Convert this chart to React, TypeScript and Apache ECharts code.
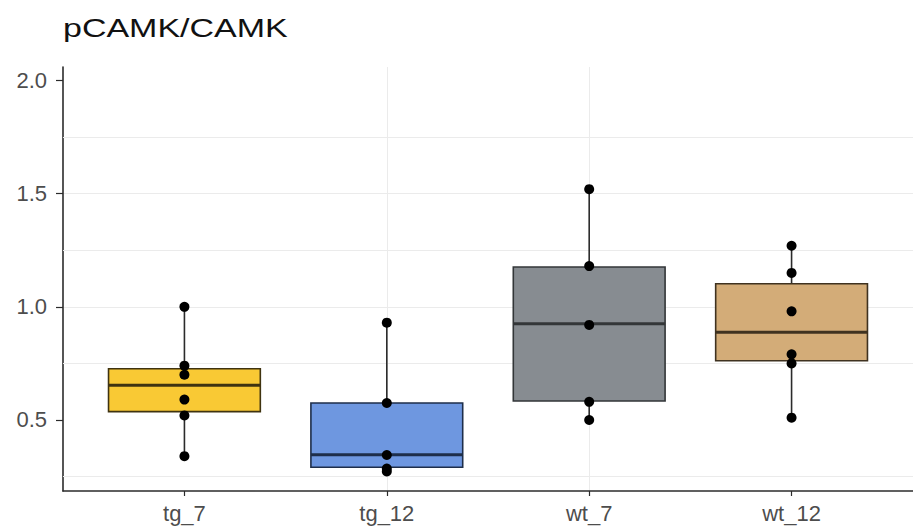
import React, { useEffect, useRef } from "react";
import * as echarts from "echarts";

const TITLE = "pCAMK/CAMK";
const CATEGORIES = ["tg_7", "tg_12", "wt_7", "wt_12"];
const CAT_POS = [1, 2, 3, 4];

// raw points per group
const TG7_POINTS = [1.0, 0.74, 0.7, 0.59, 0.52, 0.34];
const TG12_POINTS = [0.93, 0.575, 0.345, 0.285, 0.272];
const WT7_POINTS = [1.52, 1.18, 0.92, 0.58, 0.5];
const WT12_POINTS = [1.27, 1.15, 0.98, 0.79, 0.75, 0.51];

// box stats: [lower whisker, q1, median, q3, upper whisker]
const TG7_BOX = [0.34, 0.537, 0.653, 0.726, 1.0];
const TG12_BOX = [0.272, 0.291, 0.346, 0.575, 0.93];
const WT7_BOX = [0.5, 0.584, 0.925, 1.176, 1.518];
const WT12_BOX = [0.508, 0.762, 0.888, 1.102, 1.268];

const Y_MIN = 0.186;
const Y_MAX = 2.06;
const Y_TICKS = [0.5, 1.0, 1.5, 2.0];
const Y_MINOR = [0.25, 0.75, 1.25, 1.75];
const X_MIN = 0.4;
const X_MAX = 4.6;

const FILLS = ["#F9C934", "#6E97E0", "#878C91", "#D3AC78"];
const BORDERS = ["#3F3310", "#1E2E4A", "#333638", "#3F3220"];
const BOX_WIDTH = 0.75;
const FONT = "'Liberation Sans', Arial, sans-serif";
const GRID_COLOR = "#EBEBEB";

export default function App() {
  const ref = useRef<HTMLDivElement>(null);

  useEffect(() => {
    if (!ref.current) return;
    const chart = echarts.init(ref.current, null, { renderer: "svg" });

    const groupsPoints = [TG7_POINTS, TG12_POINTS, WT7_POINTS, WT12_POINTS];
    const boxes = [TG7_BOX, TG12_BOX, WT7_BOX, WT12_BOX];
    const boxData = boxes.map((b, i) => [CAT_POS[i], ...b]);
    const pointData: number[][] = [];
    groupsPoints.forEach((pts, i) => pts.forEach((v) => pointData.push([CAT_POS[i], v])));

    chart.setOption({
      animation: false,
      backgroundColor: "#ffffff",
      textStyle: { fontFamily: FONT },
      graphic: [
        {
          type: "text",
          x: 63,
          y: 16,
          scaleX: 1.36,
          style: {
            text: TITLE,
            fontSize: 25,
            fontFamily: FONT,
            fill: "#111111",
            verticalAlign: "top",
          },
        },
      ],
      grid: { left: 63, top: 67, width: 853, height: 424, containLabel: false },
      xAxis: {
        type: "value",
        min: X_MIN,
        max: X_MAX,
        minInterval: 1,
        maxInterval: 1,
        axisLine: { show: true, onZero: false, lineStyle: { color: "#2B2B2B", width: 1.6 } },
        axisTick: { show: true, length: 5, customValues: CAT_POS, lineStyle: { color: "#2B2B2B", width: 1.2 } },
        axisLabel: {
          customValues: CAT_POS,
          formatter: (v: number) => {
            const i = Math.round(v) - 1;
            return Math.abs(v - Math.round(v)) < 1e-6 && i >= 0 && i < CATEGORIES.length ? CATEGORIES[i] : "";
          },
          fontSize: 22,
          color: "#4D4D4D",
          margin: 11,
          fontFamily: FONT,
        },
        splitLine: { show: true, showMinLine: false, showMaxLine: false, lineStyle: { color: GRID_COLOR, width: 1 } },
      },
      yAxis: {
        type: "value",
        min: Y_MIN,
        max: Y_MAX,
        minInterval: 0.25,
        maxInterval: 0.25,
        axisLine: { show: true, onZero: false, lineStyle: { color: "#2B2B2B", width: 1.6 } },
        axisTick: { show: true, length: 7, customValues: Y_TICKS, lineStyle: { color: "#2B2B2B", width: 1.2 } },
        axisLabel: {
          customValues: Y_TICKS,
          formatter: (v: number) => (Math.abs(v * 2 - Math.round(v * 2)) < 1e-6 ? v.toFixed(1) : ""),
          fontSize: 22,
          color: "#4D4D4D",
          margin: 16,
          fontFamily: FONT,
        },
        splitLine: { show: true, showMinLine: false, showMaxLine: false, lineStyle: { color: GRID_COLOR, width: 1 } },
      },
      series: [
        {
          type: "scatter",
          data: [],
          z: 1,
          silent: true,
          markLine: {
            silent: true,
            z: 1,
            symbol: ["none", "none"],
            label: { show: false },
            lineStyle: { color: GRID_COLOR, type: "solid", width: 1 },
            emphasis: { disabled: true },
            data: Y_MINOR.map((v) => ({ yAxis: v })),
          },
        },
        {
          type: "custom",
          data: boxData,
          encode: { x: 0, y: [1, 2, 3, 4, 5] },
          z: 2,
          renderItem: (params: any, api: any) => {
            const x = api.value(0);
            const lo = api.coord([x, api.value(1)]);
            const q1 = api.coord([x, api.value(2)]);
            const med = api.coord([x, api.value(3)]);
            const q3 = api.coord([x, api.value(4)]);
            const hi = api.coord([x, api.value(5)]);
            const halfW = api.size([BOX_WIDTH, 0])[0] / 2;
            const idx = params.dataIndex;
            return {
              type: "group",
              children: [
                {
                  type: "line",
                  shape: { x1: lo[0], y1: lo[1], x2: q1[0], y2: q1[1] },
                  style: { stroke: "#2B2B2B", lineWidth: 1.6 },
                },
                {
                  type: "line",
                  shape: { x1: q3[0], y1: q3[1], x2: hi[0], y2: hi[1] },
                  style: { stroke: "#2B2B2B", lineWidth: 1.6 },
                },
                {
                  type: "rect",
                  shape: { x: q3[0] - halfW, y: q3[1], width: halfW * 2, height: q1[1] - q3[1] },
                  style: { fill: FILLS[idx], stroke: BORDERS[idx], lineWidth: 1.6 },
                },
                {
                  type: "line",
                  shape: { x1: med[0] - halfW, y1: med[1], x2: med[0] + halfW, y2: med[1] },
                  style: { stroke: BORDERS[idx], lineWidth: 3 },
                },
              ],
            };
          },
        },
        {
          type: "scatter",
          data: pointData,
          symbol: "circle",
          symbolSize: 10,
          itemStyle: { color: "#000000", opacity: 1 },
          z: 3,
        },
      ],
    });

    return () => chart.dispose();
  }, []);

  return (
    <div
      ref={ref}
      style={{ position: "fixed", left: 0, top: 0, width: 913, height: 529, background: "#fff" }}
    />
  );
}
